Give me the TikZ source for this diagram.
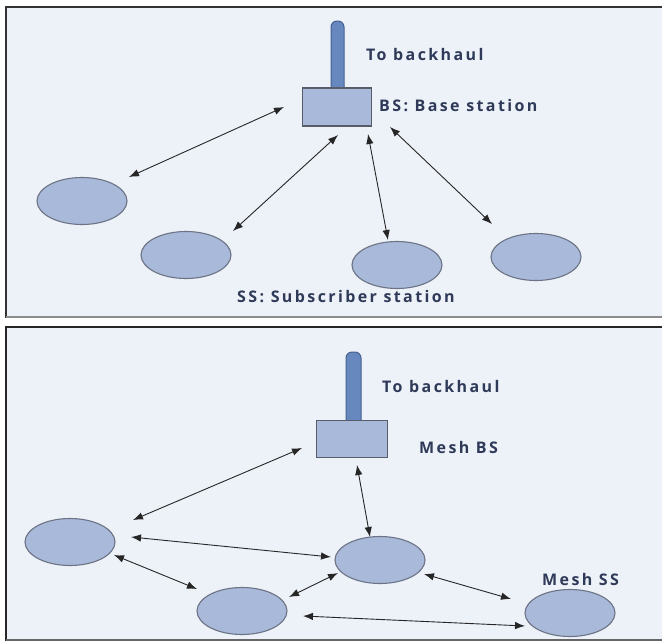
\documentclass[tikz,border=0pt]{standalone}
\usepackage{fontspec}
\setmainfont{Open Sans}
\newfontfamily\lblfont[LetterSpace=15]{Open Sans}
\usetikzlibrary{arrows.meta,shapes.geometric}
\definecolor{panelbg}{HTML}{EDF1F8}
\definecolor{ssfill}{HTML}{A9B9D9}
\definecolor{ssline}{HTML}{6B7384}
\definecolor{polefill}{HTML}{6788BE}
\definecolor{poleline}{HTML}{45618F}
\definecolor{txt}{HTML}{2E3A58}
\tikzset{
  ss/.style={ellipse, draw=ssline, line width=1.1pt, fill=ssfill, minimum width=90pt, minimum height=47pt, inner sep=0pt},
  bsbox/.style={rectangle, draw=ssline!80!black, line width=1.1pt, fill=ssfill, inner sep=0pt},
  pole/.style={draw=poleline, line width=1pt, fill=polefill, rounded corners=6pt},
  lbl/.style={text=txt, font=\lblfont\fontsize{16}{18}\selectfont\bfseries, inner sep=0pt, anchor=west},
  link/.style={draw=black!85, line width=0.9pt, {Latex[length=10pt,width=7.5pt]}-{Latex[length=10pt,width=7.5pt]}}
}
\begin{document}
\begin{tikzpicture}[x=1pt,y=-1pt]
\useasboundingbox (0,0) rectangle (662,643);
\fill[white] (0,0) rectangle (662,643);
% panels
\fill[panelbg] (6,7) rectangle (662,318);
\draw[black!80, line width=2pt] (6,318) -- (6,7) -- (662,7);
\draw[black!45, line width=2.5pt] (6,317) -- (662,317);
\fill[panelbg] (6,327) rectangle (662,641);
\draw[black!85, line width=2pt] (6,641) -- (6,327) -- (662,327);
\draw[black!60, line width=2pt] (6,640) -- (662,640);

% ---------- top panel ----------
\draw[pole] (331,95) rectangle (344,21);
\node[bsbox, minimum width=69pt, minimum height=38pt] (bs) at (337,107) {};
\node[lbl] (tb1) at (366,54) {To backhaul};
\node[lbl] (bsl) at (379,106) {BS: Base station};
\node[ss] (s1) at (82,201) {};
\node[ss] (s2) at (186,255) {};
\node[ss] (s3) at (397,265) {};
\node[ss] (s4) at (536,257) {};
\node[lbl, anchor=center] (ssl) at (346,297) {SS: Subscriber station};

\coordinate (t1a) at (129,177); \coordinate (t1b) at (284,107);
\coordinate (t2a) at (233,231); \coordinate (t2b) at (338,135);
\coordinate (t3a) at (388,240); \coordinate (t3b) at (368,134);
\coordinate (t4a) at (492,224); \coordinate (t4b) at (390,127);
\draw[link] (t1a) -- (t1b);
\draw[link] (t2a) -- (t2b);
\draw[link] (t3a) -- (t3b);
\draw[link] (t4a) -- (t4b);

% ---------- bottom panel ----------
\draw[pole] (346,426) rectangle (361,352);
\node[bsbox, minimum width=71pt, minimum height=37pt] (mbs) at (352,439) {};
\node[lbl] (tb2) at (382,386) {To backhaul};
\node[lbl] (mbsl) at (419,447) {Mesh BS};
\node[ss] (m1) at (70,542) {};
\node[ss] (m2) at (380,560) {};
\node[ss] (m3) at (242,611) {};
\node[ss] (m4) at (570,613) {};
\node[lbl] (mssl) at (542,579) {Mesh SS};

\coordinate (b1a) at (133,520); \coordinate (b1b) at (302,448);
\coordinate (b2a) at (357,465); \coordinate (b2b) at (370,537);
\coordinate (b3a) at (131,537); \coordinate (b3b) at (331,557);
\coordinate (b4a) at (114,555); \coordinate (b4b) at (197,589);
\coordinate (b5a) at (289,597); \coordinate (b5b) at (338,573);
\coordinate (b6a) at (424,574); \coordinate (b6b) at (511,599);
\coordinate (b7a) at (303,616); \coordinate (b7b) at (525,626);
\draw[link] (b1a) -- (b1b);
\draw[link] (b2a) -- (b2b);
\draw[link] (b3a) -- (b3b);
\draw[link] (b4a) -- (b4b);
\draw[link] (b5a) -- (b5b);
\draw[link] (b6a) -- (b6b);
\draw[link] (b7a) -- (b7b);
\end{tikzpicture}
\end{document}
